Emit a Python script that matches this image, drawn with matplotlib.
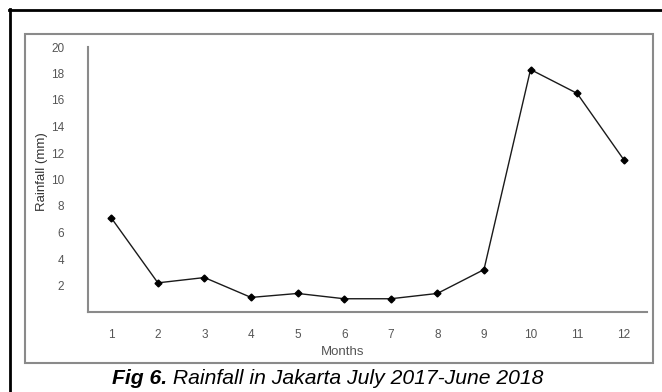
import matplotlib
matplotlib.use("Agg")
import matplotlib.pyplot as plt
from matplotlib.patches import Rectangle
from matplotlib.lines import Line2D

months = [1, 2, 3, 4, 5, 6, 7, 8, 9, 10, 11, 12]
rainfall = [7.1, 2.2, 2.6, 1.1, 1.4, 1.0, 1.0, 1.4, 3.2, 18.3, 16.5, 11.5]
y_ticks = [2, 4, 6, 8, 10, 12, 14, 16, 18, 20]
x_label = "Months"
y_label = "Rainfall (mm)"
caption_bold = "Fig 6."
caption_rest = " Rainfall in Jakarta July 2017-June 2018"

plt.rcParams['font.family'] = ['Liberation Sans', 'DejaVu Sans']

W, H = 662, 392
fig = plt.figure(figsize=(W / 100, H / 100), dpi=100)

def fx(px):
    return px / W

def fy(py):
    return 1 - py / H

# outer black border (top & left visible)
fig.add_artist(Line2D([fx(9), fx(662)], [fy(9.5), fy(9.5)], color='black', lw=2))
fig.add_artist(Line2D([fx(9.5), fx(9.5)], [fy(9), fy(392)], color='black', lw=2))
# inner gray box
fig.add_artist(Rectangle((fx(25), fy(363)), fx(653) - fx(25), fy(34) - fy(363),
                         fill=False, edgecolor='#8a8a8a', lw=1.5))

ax = fig.add_axes([fx(88), fy(312), fx(647) - fx(88), fy(47) - fy(312)])
ax.plot(months, rainfall, color='#1a1a1a', lw=1.0, marker='D', markersize=3.5,
        markerfacecolor='black', markeredgecolor='black')
ax.set_xlim(0.5, 12.5)
ax.set_ylim(0, 20)
ax.set_xticks(months)
ax.set_yticks(y_ticks)
for s in ['top', 'right']:
    ax.spines[s].set_visible(False)
for s in ['left', 'bottom']:
    ax.spines[s].set_color('#8a8a8a')
    ax.spines[s].set_linewidth(1.5)
ax.tick_params(axis='both', length=0, labelsize=8.5, labelcolor='#555555')
ax.tick_params(axis='y', pad=17)
ax.tick_params(axis='x', pad=12)
ax.set_facecolor('white')

fig.text(fx(343), fy(352), x_label, ha='center', va='center', fontsize=9.5, color='#555555')
fig.text(fx(42), fy(172), y_label, ha='center', va='center', rotation=90,
         fontsize=9.5, color='#333333')

# caption with bold part
t1 = fig.text(fx(112), fy(378), caption_bold, ha='left', va='center', fontsize=15.2,
              fontweight='bold', fontstyle='italic', color='black')
renderer = fig.canvas.get_renderer()
bb = t1.get_window_extent(renderer=renderer)
fig.text(bb.x1 / W, fy(378), caption_rest, ha='left', va='center', fontsize=15.2,
         fontstyle='italic', color='black')

fig.savefig("out.png", dpi=100)
